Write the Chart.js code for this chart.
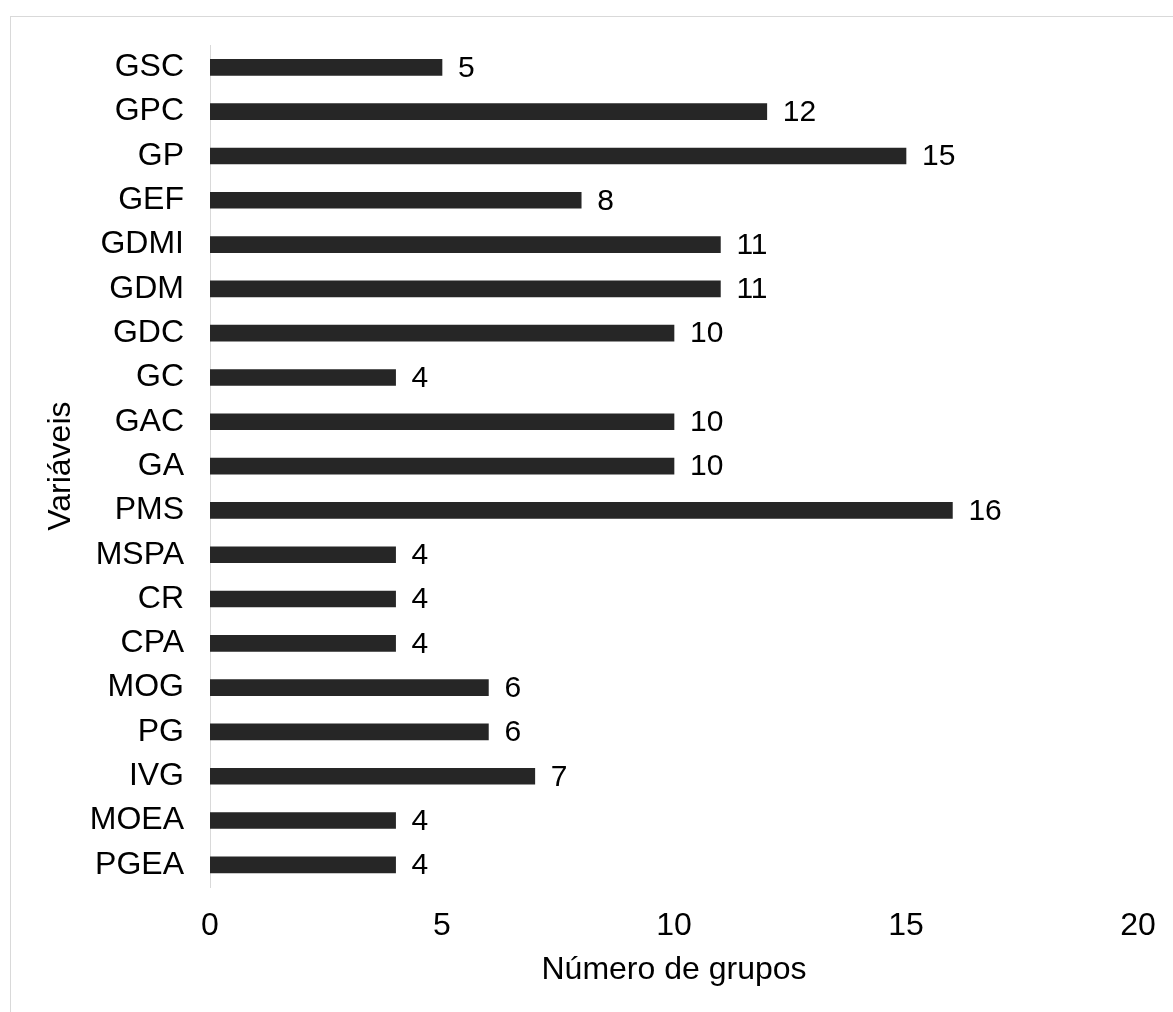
<!DOCTYPE html>
<html>
<head>
<meta charset="utf-8">
<script src="https://cdn.jsdelivr.net/npm/chart.js@4"></script>
<style>
  html, body { margin: 0; padding: 0; background: #fff; }
  #wrap { position: relative; width: 1173px; height: 1012px; overflow: hidden; }
  #frame { position: absolute; left: 10px; top: 16px; width: 1300px; height: 1200px; border: 1px solid #d9d9d9; box-sizing: border-box; }
  canvas { position: absolute; left: 0; top: 0; }
</style>
</head>
<body>
<div id="wrap">
  <div id="frame"></div>
  <canvas id="c" width="1173" height="1012"></canvas>
</div>
<script>
const categories = ["GSC","GPC","GP","GEF","GDMI","GDM","GDC","GC","GAC","GA","PMS","MSPA","CR","CPA","MOG","PG","IVG","MOEA","PGEA"];
const values = [5,12,15,8,11,11,10,4,10,10,16,4,4,4,6,6,7,4,4];
const xTicks = [0,5,10,15,20];
const xTitle = "Número de grupos";
const yTitle = "Variáveis";

const FONT = "'Liberation Sans', Arial, sans-serif";

const valueLabels = {
  id: 'valueLabels',
  afterDatasetsDraw(chart) {
    const ctx = chart.ctx;
    const meta = chart.getDatasetMeta(0);
    ctx.save();
    ctx.font = "30px " + FONT;
    ctx.fillStyle = "#000";
    ctx.textAlign = "left";
    ctx.textBaseline = "middle";
    meta.data.forEach((bar, i) => {
      ctx.fillText(String(values[i]), bar.x + 16, bar.y + 1);
    });
    ctx.restore();
  }
};

new Chart(document.getElementById('c'), {
  type: 'bar',
  data: {
    labels: categories,
    datasets: [{
      data: values,
      backgroundColor: '#262626',
      borderWidth: 0,
      barThickness: 16
    }]
  },
  options: {
    indexAxis: 'y',
    responsive: false,
    animation: false,
    devicePixelRatio: 1,
    layout: { padding: { top: 45, right: 35, left: 0, bottom: 0 } },
    plugins: { legend: { display: false }, tooltip: { enabled: false } },
    scales: {
      x: {
        min: 0, max: 20,
        afterBuildTicks(scale) { scale.ticks = xTicks.map(v => ({ value: v })); },
        afterFit(scale) { scale.height = 125; scale.paddingRight = 0; scale.paddingLeft = 0; },
        grid: { display: false, drawTicks: false },
        border: { display: false },
        ticks: { color: '#000', font: { family: FONT, size: 32 }, padding: 20, maxRotation: 0 },
        title: { display: true, text: xTitle, color: '#000', font: { family: FONT, size: 32 }, padding: { top: 0, bottom: 23 } }
      },
      y: {
        afterFit(scale) { scale.width = 210; },
        grid: { display: false, drawTicks: false },
        border: { display: true, color: '#d9d9d9', width: 1 },
        ticks: { color: '#000', font: { family: FONT, size: 32 }, padding: 26, autoSkip: false },
        title: { display: true, text: yTitle, color: '#000', font: { family: FONT, size: 32 }, padding: { top: 42, bottom: 0 } }
      }
    }
  },
  plugins: [valueLabels]
});
</script>
</body>
</html>
